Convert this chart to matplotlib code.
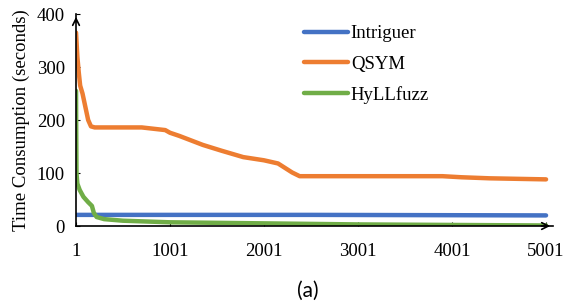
import matplotlib
matplotlib.use("Agg")
import matplotlib.pyplot as plt

# ---- data ----
intriguer_x = [1, 2500, 5001]
intriguer_y = [21, 21, 20]

qsym_x = [1, 15, 30, 45, 70, 100, 130, 160, 200, 400, 700, 850, 950, 1000, 1100,
          1350, 1550, 1780, 2000, 2150, 2300, 2380, 2600, 3000, 3500, 3900, 4100,
          4400, 4700, 5001]
qsym_y = [365, 320, 290, 265, 250, 225, 200, 188, 186, 186, 186, 183, 181, 176, 170,
          153, 142, 130, 124, 118, 101, 94, 94, 94, 94, 94, 92, 90, 89, 88]

hyll_x = [1, 3, 6, 15, 40, 80, 130, 170, 190, 220, 300, 500, 1000, 1500, 2000,
          3000, 4000, 5001]
hyll_y = [255, 180, 100, 80, 68, 55, 45, 38, 25, 17, 13, 10, 7, 6, 5, 3, 2, 1]

series_labels = ["Intriguer", "QSYM", "HyLLfuzz"]
series_colors = ["#4472C4", "#ED7D31", "#70AD47"]
xticks = [1, 1001, 2001, 3001, 4001, 5001]
yticks = [0, 100, 200, 300, 400]

serif = ["Liberation Serif", "DejaVu Serif"]
fs = 13.5

fig = plt.figure(figsize=(5.64, 3.08), dpi=100)
ax = fig.add_axes([0.1348, 0.2662, 0.8457, 0.6883])

for xs, ys, lab, col in zip([intriguer_x, qsym_x, hyll_x],
                            [intriguer_y, qsym_y, hyll_y],
                            series_labels, series_colors):
    ax.plot(xs, ys, color=col, lw=3.2, label=lab, solid_capstyle="round",
            solid_joinstyle="round")

ax.set_xlim(1, 5075)
ax.set_ylim(0, 400)
ax.set_xticks(xticks)
ax.set_yticks(yticks)
ax.set_xticklabels([str(t) for t in xticks], family=serif, fontsize=fs)
ax.set_yticklabels([str(t) for t in yticks], family=serif, fontsize=fs)
ax.tick_params(axis="x", direction="in", length=3, pad=12)
ax.tick_params(axis="y", direction="in", length=3, pad=8)

for s in ["top", "right"]:
    ax.spines[s].set_visible(False)
for s in ["left", "bottom"]:
    ax.spines[s].set_linewidth(1.2)

# arrow heads on axes
ax.annotate("", xy=(1.0, 0), xytext=(0.97, 0), xycoords="axes fraction",
            arrowprops=dict(arrowstyle="->", lw=1.2, color="black",
                            mutation_scale=12), annotation_clip=False)
ax.annotate("", xy=(0, 1.0), xytext=(0, 0.95), xycoords="axes fraction",
            arrowprops=dict(arrowstyle="->", lw=1.2, color="black",
                            mutation_scale=12), annotation_clip=False)

ax.set_ylabel("Time Consumption (seconds)", family=serif, fontsize=fs, labelpad=5)

leg = ax.legend(loc="upper left", bbox_to_anchor=(0.462, 0.982), frameon=False,
                prop={"family": serif, "size": fs}, handlelength=2.35,
                handletextpad=0.15, labelspacing=0.7, borderaxespad=0)

fig.text(0.545, 0.055, "(a)", ha="center", va="center",
         family=["Lato", "DejaVu Sans"], fontsize=15)

fig.savefig("out.png", dpi=100)
